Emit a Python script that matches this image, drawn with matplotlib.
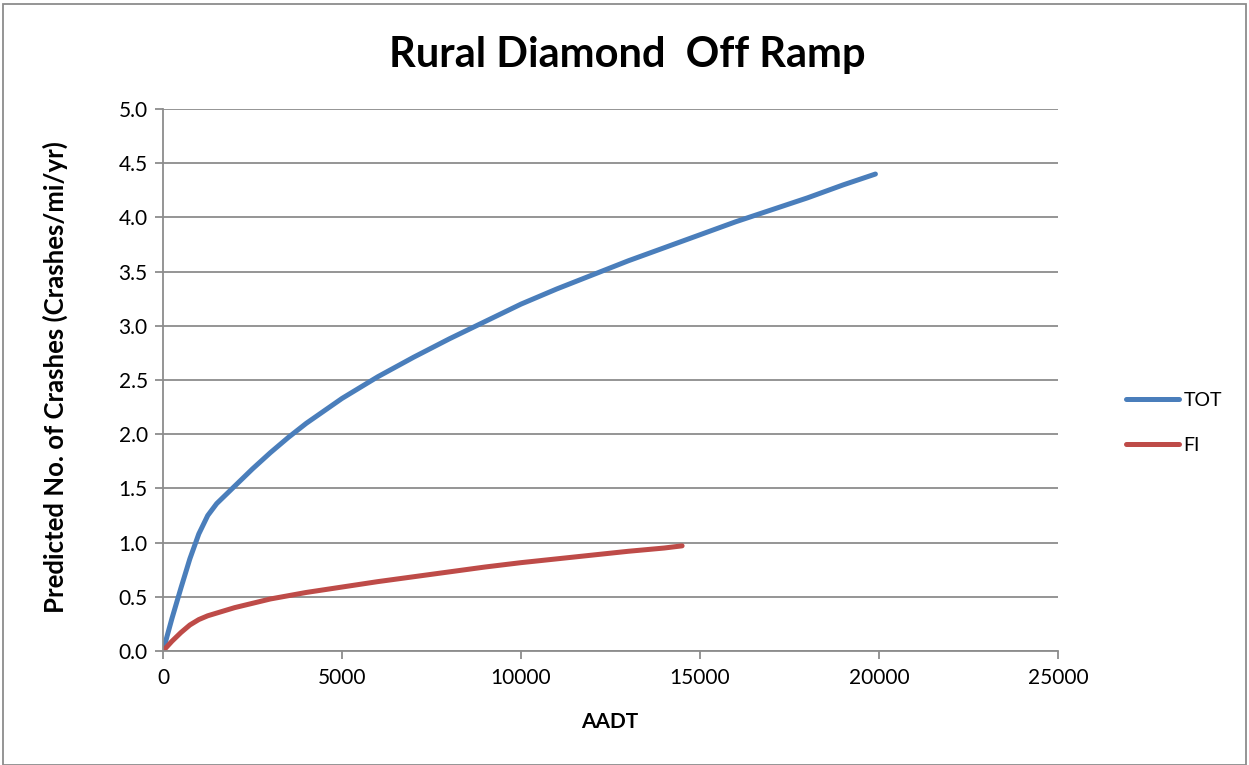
import matplotlib
matplotlib.use("Agg")
import matplotlib.pyplot as plt
from matplotlib.patches import Rectangle

title = "Rural Diamond  Off Ramp"
xlabel = "AADT"
ylabel = "Predicted No. of Crashes (Crashes/mi/yr)"

tot_aadt = [0, 250, 500, 750, 1000, 1250, 1500, 2000, 2500, 3000, 3500, 4000, 5000, 6000,
            7000, 8000, 9000, 10000, 11000, 12000, 13000, 14000, 15000, 16000, 17000,
            18000, 19000, 19900]
tot_vals = [0.0, 0.30, 0.58, 0.85, 1.08, 1.25, 1.36, 1.52, 1.68, 1.83, 1.97, 2.10, 2.33, 2.53,
            2.71, 2.88, 3.04, 3.20, 3.34, 3.47, 3.60, 3.72, 3.84, 3.96, 4.07,
            4.18, 4.30, 4.40]

fi_aadt = [0, 250, 500, 750, 1000, 1250, 1500, 2000, 2500, 3000, 4000, 5000, 6000, 7000,
           8000, 9000, 10000, 11000, 12000, 13000, 14000, 14500]
fi_vals = [0.0, 0.09, 0.17, 0.24, 0.29, 0.325, 0.35, 0.40, 0.44, 0.48, 0.54, 0.59, 0.64, 0.685,
           0.73, 0.775, 0.815, 0.85, 0.885, 0.92, 0.95, 0.97]

series_names = ["TOT", "FI"]
colors = ["#4A7EBB", "#BE4B48"]

xticks = [0, 5000, 10000, 15000, 20000, 25000]
yticks = [0.0, 0.5, 1.0, 1.5, 2.0, 2.5, 3.0, 3.5, 4.0, 4.5, 5.0]

plt.rcParams['font.family'] = ['Lato', 'DejaVu Sans']

fig = plt.figure(figsize=(12.49, 7.65), dpi=100)
ax = fig.add_axes([163/1249, 1-651/765, (1058-163)/1249, (651-109)/765])

ax.plot(tot_aadt, tot_vals, color=colors[0], lw=3.6, label=series_names[0],
        solid_capstyle='round', solid_joinstyle='round')
ax.plot(fi_aadt, fi_vals, color=colors[1], lw=3.6, label=series_names[1],
        solid_capstyle='round', solid_joinstyle='round')

ax.set_xlim(0, 25000)
ax.set_ylim(0, 5.0)
ax.set_xticks(xticks)
ax.set_xticklabels([str(v) for v in xticks])
ax.set_yticks(yticks)
ax.set_yticklabels([f"{v:.1f}" for v in yticks])
ax.grid(axis='y', color='#8C8C8C', lw=1.3)
ax.set_axisbelow(True)
for s in ['top', 'right']:
    ax.spines[s].set_visible(False)
for s in ['left', 'bottom']:
    ax.spines[s].set_color('#8C8C8C')
    ax.spines[s].set_linewidth(1.3)
ax.tick_params(axis='both', colors='#8C8C8C', labelcolor='black', labelsize=15,
               length=6, width=1.3, direction='out')
ax.tick_params(axis='y', pad=5)
ax.tick_params(axis='x', pad=6)

ax.set_xlabel(xlabel, fontsize=15, fontweight='bold')
ax.xaxis.label.set_va('center')
ax.xaxis.set_label_coords((610-163)/895, (651-722)/542)
ax.set_ylabel(ylabel, fontsize=18.5, fontweight='bold')
ax.yaxis.label.set_va('center')
ax.yaxis.set_label_coords((55-163)/895, (651-377)/542)

fig.text(627/1249, 1 - 55/765, title, ha='center', va='center',
         fontsize=30, fontweight='bold')

ax.legend(loc='center left', bbox_to_anchor=(1126/1249, 1 - 423/765), bbox_transform=fig.transFigure,
          frameon=False, fontsize=14, handlelength=2.7, labelspacing=1.45, handletextpad=0.25,
          borderaxespad=0, borderpad=0)

fig.patches.append(Rectangle((3/1249, 0.5/765), 1243/1249, 761/765, transform=fig.transFigure,
                             fill=False, edgecolor='#8C8C8C', lw=1.3))

fig.savefig("out.png", dpi=100)
